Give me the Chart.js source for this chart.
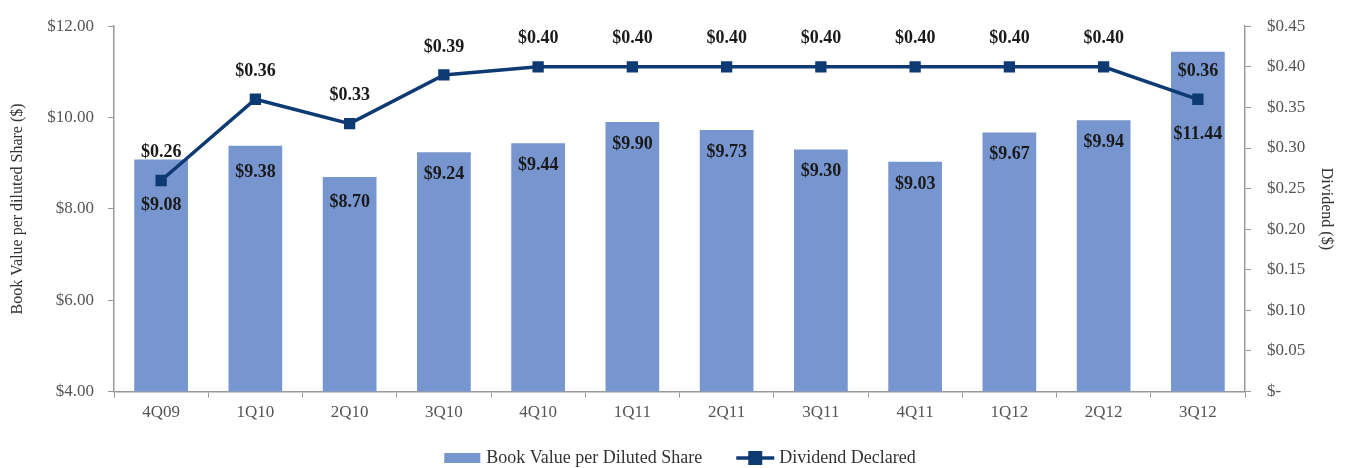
<!DOCTYPE html>
<html>
<head>
<meta charset="utf-8">
<script src="https://cdn.jsdelivr.net/npm/chart.js@4.4.0/dist/chart.umd.min.js"></script>
<style>
    html, body { margin: 0; padding: 0; background: #fff; }
    #wrap { width: 1346px; height: 468px; }
</style>
</head>
<body>
<div id="wrap"><canvas id="chart"></canvas></div>
<script>
const quarters = ["4Q09","1Q10","2Q10","3Q10","4Q10","1Q11","2Q11","3Q11","4Q11","1Q12","2Q12","3Q12"];
const bookValue = [9.08, 9.38, 8.70, 9.24, 9.44, 9.90, 9.73, 9.30, 9.03, 9.67, 9.94, 11.44];
const dividend = [0.26, 0.36, 0.33, 0.39, 0.40, 0.40, 0.40, 0.40, 0.40, 0.40, 0.40, 0.36];

const barColor = "#7795cf";
const lineColor = "#0e3a74";
const serif = "'Liberation Serif', 'DejaVu Serif', serif";

// label nudges (px below bar top / above point)
const barLabelDrop = [46, 26, 25, 22, 22, 22, 22, 22, 22, 22, 22, 83];
const lineLabelLift = 28;

const labelPlugin = {
    id: "valueLabels",
    afterDatasetsDraw(chart) {
        const ctx = chart.ctx;
        ctx.save();
        ctx.font = "bold 18px " + serif;
        ctx.fillStyle = "#1a1a1a";
        ctx.textAlign = "center";
        ctx.textBaseline = "middle";
        chart.getDatasetMeta(0).data.forEach((bar, i) => {
            ctx.fillText("$" + bookValue[i].toFixed(2), bar.x, bar.y + barLabelDrop[i]);
        });
        chart.getDatasetMeta(1).data.forEach((pt, i) => {
            ctx.fillText("$" + dividend[i].toFixed(2), pt.x, pt.y - lineLabelLift);
        });
        ctx.restore();
    },
    afterDraw(chart) {
        // legend: bar swatch + line-with-marker swatch
        const ctx = chart.ctx;
        ctx.save();
        ctx.font = "18px " + serif;
        ctx.textBaseline = "middle";
        const t1 = chart.data.datasets[0].label;
        const t2 = chart.data.datasets[1].label;
        const w1 = 36 + 6 + ctx.measureText(t1).width;
        const w2 = 38 + 5 + ctx.measureText(t2).width;
        const gap = 34;
        let x = 680 - (w1 + gap + w2) / 2;
        const y = 458;
        ctx.fillStyle = barColor;
        ctx.fillRect(x, y - 5, 36, 10);
        ctx.fillStyle = "#333";
        ctx.fillText(t1, x + 42, y);
        x += w1 + gap;
        ctx.strokeStyle = lineColor;
        ctx.lineWidth = 3.5;
        ctx.beginPath();
        ctx.moveTo(x, y);
        ctx.lineTo(x + 38, y);
        ctx.stroke();
        ctx.fillStyle = lineColor;
        ctx.fillRect(x + 12, y - 7, 14, 14);
        ctx.fillStyle = "#333";
        ctx.fillText(t2, x + 43, y);
        ctx.restore();
    }
};

new Chart(document.getElementById("chart"), {
    type: "bar",
    data: {
        labels: quarters,
        datasets: [
            {
                label: "Book Value per Diluted Share",
                data: bookValue,
                yAxisID: "y",
                backgroundColor: barColor,
                categoryPercentage: 1,
                barPercentage: 0.57,
                order: 1
            },
            {
                type: "line",
                label: "Dividend Declared",
                data: dividend,
                yAxisID: "y1",
                borderColor: lineColor,
                backgroundColor: lineColor,
                borderWidth: 3.5,
                pointStyle: "rect",
                pointRadius: 8,
                pointBorderWidth: 0,
                tension: 0,
                order: 0
            }
        ]
    },
    options: {
        responsive: true,
        maintainAspectRatio: false,
        animation: false,
        layout: { padding: { top: 6, bottom: 40, left: 8, right: 6 } },
        plugins: {
            legend: { display: false },
            tooltip: { enabled: false }
        },
        scales: {
            x: {
                grid: { display: true, drawOnChartArea: false, tickLength: 6, color: "#9a9a9a", offset: true },
                border: { color: "#9a9a9a", width: 1.5 },
                ticks: { color: "#555", font: { family: serif, size: 17 }, padding: 5 }
            },
            y: {
                position: "left",
                min: 4, max: 12,
                ticks: { stepSize: 2, color: "#555", font: { family: serif, size: 17 }, padding: 14,
                    callback: v => "$" + v.toFixed(2) },
                grid: { drawOnChartArea: false, tickLength: 6, color: "#9a9a9a" },
                border: { color: "#9a9a9a", width: 1.5 },
                title: { display: true, text: "Book Value per diluted Share ($)", color: "#333",
                    font: { family: serif, size: 16 }, padding: { top: 0, bottom: 4 } },
                afterFit: s => { s.width = 106; }
            },
            y1: {
                position: "right",
                min: 0, max: 0.45,
                ticks: { stepSize: 0.05, color: "#555", font: { family: serif, size: 17 }, padding: 16,
                    callback: v => v === 0 ? "$-" : "$" + v.toFixed(2) },
                grid: { drawOnChartArea: false, tickLength: 6, color: "#9a9a9a" },
                border: { color: "#9a9a9a", width: 1.5 },
                title: { display: true, text: "Dividend ($)", color: "#333",
                    font: { family: serif, size: 16 }, padding: { top: 4, bottom: 0 } },
                afterFit: s => { s.width = 95; }
            }
        }
    },
    plugins: [labelPlugin]
});
</script>
</body>
</html>
